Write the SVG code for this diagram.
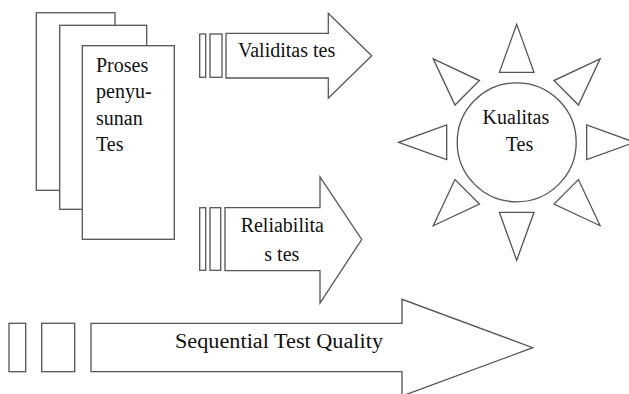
<svg xmlns="http://www.w3.org/2000/svg" width="629" height="394" viewBox="0 0 629 394">
  <style>
    .shape { fill: #ffffff; stroke: #555555; stroke-width: 1.3; stroke-linejoin: miter; }
    .label { font-family: "Liberation Serif", "Times New Roman", serif; font-size: 20px; fill: #111111; }
    .mid { text-anchor: middle; }
  </style>
  <defs>
    <!-- one sun ray, pointing up from the sun centre -->
    <polygon id="ray" class="shape" points="0,-118 -17.3,-70 17.3,-70"/>
  </defs>
  <rect width="629" height="394" fill="#ffffff"/>

  <!-- stacked sheets: test drafting process -->
  <g id="proses">
    <rect class="shape" x="36.3" y="12.7" width="78.7" height="177.6"/>
    <rect class="shape" x="59.7" y="25.3" width="87" height="184"/>
    <rect class="shape" x="82.3" y="45.7" width="92" height="193.6"/>
    <text class="label" x="96" y="71.5">Proses</text>
    <text class="label" x="96" y="98">penyu-</text>
    <text class="label" x="96" y="124.5">sunan</text>
    <text class="label" x="96" y="151">Tes</text>
  </g>

  <g id="connectors">
    <!-- validity arrow -->
    <g id="validitas">
      <rect class="shape" x="199.7" y="34" width="6" height="43.3"/>
      <rect class="shape" x="210" y="34" width="12" height="43.3"/>
      <polygon class="shape" points="226,33.3 328.3,33.3 328.3,13.3 371.7,55.7 328.3,98.3 328.3,78 226,78"/>
      <text class="label" x="238" y="57.3" font-size="20.8">Validitas tes</text>
    </g>
    <!-- reliability arrow -->
    <g id="reliabilitas">
      <rect class="shape" x="199.7" y="207.7" width="6" height="62.6"/>
      <rect class="shape" x="210" y="207.7" width="10.7" height="62.6"/>
      <polygon class="shape" points="225,207.7 320,207.7 320,177 361.7,239.5 320,303 320,270.7 225,270.7"/>
      <text class="label mid" x="282.3" y="232.3" font-size="21.3">Reliabilita</text>
      <text class="label mid" x="281.8" y="260.7" font-size="21.3">s tes</text>
    </g>
    <!-- sequence arrow along the bottom -->
    <g id="sequential">
      <rect class="shape" x="9" y="323.3" width="16.7" height="48.4"/>
      <rect class="shape" x="41.7" y="323.3" width="33" height="48.4"/>
      <polygon class="shape" points="91,323.3 402,323.3 402,299.3 532.7,347.7 402,396 402,371.7 91,371.7"/>
      <text class="label" x="175" y="348.3" font-size="23" textLength="208" lengthAdjust="spacingAndGlyphs">Sequential Test Quality</text>
    </g>
  </g>

  <!-- sun: test quality -->
  <g id="kualitas" transform="translate(516.7,142.3)">
    <use href="#ray"/>
    <use href="#ray" transform="rotate(45)"/>
    <use href="#ray" transform="rotate(90)"/>
    <use href="#ray" transform="rotate(135)"/>
    <use href="#ray" transform="rotate(180)"/>
    <use href="#ray" transform="rotate(225)"/>
    <use href="#ray" transform="rotate(270)"/>
    <use href="#ray" transform="rotate(315)"/>
    <circle class="shape" cx="0" cy="0" r="59.5"/>
    <text class="label mid" x="-0.8" y="-18.3" font-size="20.7">Kualitas</text>
    <text class="label mid" x="2.8" y="8.7" font-size="20.7">Tes</text>
  </g>
</svg>
